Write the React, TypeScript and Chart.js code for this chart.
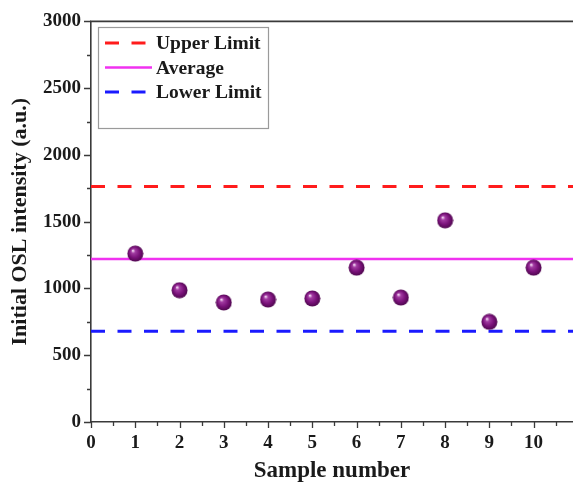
import { useEffect, useRef } from 'react';
import { Chart, registerables } from 'chart.js';

Chart.register(...registerables);

// ---- data ----
const sampleNumbers = [1, 2, 3, 4, 5, 6, 7, 8, 9, 10];
const oslIntensity = [1261, 987, 895, 917, 925, 1156, 932, 1510, 750, 1156];
const upperLimit = 1764;
const averageValue = 1221;
const lowerLimit = 680;
const seriesLabels = ['Upper Limit', 'Average', 'Lower Limit'];
const xTitle = 'Sample number';
const yTitle = 'Initial OSL intensity (a.u.)';

const X_MIN = 0;
const X_MAX = 10.89;
const Y_MIN = 0;
const Y_MAX = 3000;

const FONT = '"Liberation Serif", "Times New Roman", serif';
const AXIS_COLOR = '#3a3a3a';
const TEXT_COLOR = '#1a1a1a';

function makeSphere(): HTMLCanvasElement {
  const c = document.createElement('canvas');
  const size = 17;
  c.width = size;
  c.height = size;
  const g = c.getContext('2d')!;
  const r = size / 2;
  const grad = g.createRadialGradient(r - 2.5, r - 3, 0.5, r, r, r);
  grad.addColorStop(0, '#f0d0f0');
  grad.addColorStop(0.2, '#a23ca2');
  grad.addColorStop(0.6, '#7a127a');
  grad.addColorStop(1, '#4a064a');
  g.fillStyle = grad;
  g.beginPath();
  g.arc(r, r, r - 0.5, 0, Math.PI * 2);
  g.fill();
  return c;
}

const decorPlugin = {
  id: 'decor',
  afterDraw(chart: any) {
    const { ctx, chartArea, scales } = chart;
    const xs = scales.x;
    const ys = scales.y;
    ctx.save();
    ctx.strokeStyle = AXIS_COLOR;
    ctx.lineWidth = 1.6;
    ctx.beginPath();
    ctx.moveTo(chartArea.left - 1, chartArea.top);
    ctx.lineTo(chartArea.right, chartArea.top);
    ctx.stroke();

    ctx.lineWidth = 1.3;
    ctx.beginPath();
    for (let i = 0; i * 0.5 <= xs.max; i++) {
      const v = i * 0.5;
      const px = Math.round(xs.getPixelForValue(v)) + 0.5;
      const len = i % 2 === 0 ? 6 : 4;
      ctx.moveTo(px, chartArea.bottom);
      ctx.lineTo(px, chartArea.bottom + len);
    }
    for (let i = 0; i * 250 <= ys.max; i++) {
      const v = i * 250;
      const py = Math.round(ys.getPixelForValue(v)) + 0.5;
      const len = i % 2 === 0 ? 7 : 4;
      ctx.moveTo(chartArea.left, py);
      ctx.lineTo(chartArea.left - len, py);
    }
    ctx.stroke();

    // legend box
    const bx = 98;
    const by = 27;
    const bw = 170;
    const bh = 101;
    ctx.strokeStyle = '#9a9a9a';
    ctx.lineWidth = 1.2;
    ctx.strokeRect(bx + 0.5, by + 0.5, bw, bh);
    const items = chart.data.datasets.filter((d: any) => d.showInLegend);
    const rowY = [43, 67.5, 92];
    items.forEach((d: any, i: number) => {
      const y = rowY[i];
      ctx.save();
      ctx.strokeStyle = d.borderColor;
      ctx.lineWidth = d.borderWidth;
      ctx.setLineDash(d.borderDash || []);
      ctx.beginPath();
      ctx.moveTo(105, y);
      ctx.lineTo(152, y);
      ctx.stroke();
      ctx.restore();
      ctx.fillStyle = TEXT_COLOR;
      ctx.font = `bold 19.5px ${FONT}`;
      ctx.textBaseline = 'middle';
      ctx.textAlign = 'left';
      ctx.fillText(d.label, 156, y + 1);
    });
    ctx.restore();
  },
};

export default function App() {
  const ref = useRef<HTMLCanvasElement>(null);

  useEffect(() => {
    if (!ref.current) return;
    const sphere = makeSphere();
    const hLine = (v: number) => [
      { x: X_MIN, y: v },
      { x: X_MAX, y: v },
    ];
    const chart = new Chart(ref.current, {
      type: 'scatter',
      data: {
        datasets: [
          {
            type: 'scatter',
            label: 'Samples',
            data: sampleNumbers.map((x, i) => ({ x, y: oslIntensity[i] })),
            pointStyle: sphere as any,
            pointRadius: 8,
          } as any,
          {
            type: 'line',
            label: seriesLabels[0],
            data: hLine(upperLimit),
            borderColor: '#ff1c1c',
            borderWidth: 3,
            borderDash: [14, 12.5],
            pointRadius: 0,
            fill: false,
            showInLegend: true,
          },
          {
            type: 'line',
            label: seriesLabels[1],
            data: hLine(averageValue),
            borderColor: '#f032f0',
            borderWidth: 2.5,
            pointRadius: 0,
            fill: false,
            showInLegend: true,
          },
          {
            type: 'line',
            label: seriesLabels[2],
            data: hLine(lowerLimit),
            borderColor: '#1a1aff',
            borderWidth: 3,
            borderDash: [14, 12.5],
            pointRadius: 0,
            fill: false,
            showInLegend: true,
          },
        ],
      },
      options: {
        responsive: false,
        animation: false,
        events: [],
        layout: { autoPadding: false, padding: { top: 20, left: 0, right: 0, bottom: 0 } },
        plugins: {
          legend: { display: false },
          tooltip: { enabled: false },
        },
        scales: {
          x: {
            type: 'linear',
            min: X_MIN,
            max: X_MAX,
            afterFit: (s: any) => {
              s.height = 62;
              s.paddingRight = 0;
              s.paddingLeft = 0;
            },
            ticks: {
              stepSize: 1,
              includeBounds: false,
              autoSkip: false,
              maxRotation: 0,
              padding: 10,
              color: TEXT_COLOR,
              callback: (v: any) => String(v),
              font: { family: FONT, size: 19, weight: 'bold' },
            },
            grid: { display: true, drawOnChartArea: false, drawTicks: false },
            border: { display: true, color: AXIS_COLOR, width: 1.6 },
            title: {
              display: true,
              text: xTitle,
              color: TEXT_COLOR,
              font: { family: FONT, size: 23, weight: 'bold', lineHeight: 1 },
              padding: { top: 0, bottom: 1 },
            },
          },
          y: {
            type: 'linear',
            min: Y_MIN,
            max: Y_MAX,
            afterFit: (s: any) => {
              s.width = 91;
            },
            ticks: {
              stepSize: 500,
              autoSkip: false,
              padding: 10,
              color: TEXT_COLOR,
              callback: (v: any) => String(v),
              font: { family: FONT, size: 19, weight: 'bold' },
            },
            grid: { display: true, drawOnChartArea: false, drawTicks: false },
            border: { display: true, color: AXIS_COLOR, width: 1.6 },
            title: {
              display: true,
              text: yTitle,
              color: TEXT_COLOR,
              font: { family: FONT, size: 22, weight: 'bold', lineHeight: 1 },
              padding: { top: 9, bottom: 0 },
            },
          },
        },
      } as any,
      plugins: [decorPlugin],
    });
    return () => chart.destroy();
  }, []);

  return (
    <div style={{ position: 'fixed', left: 0, top: 0, width: 573, height: 484, background: '#fff' }}>
      <canvas ref={ref} width={573} height={484} />
    </div>
  );
}
